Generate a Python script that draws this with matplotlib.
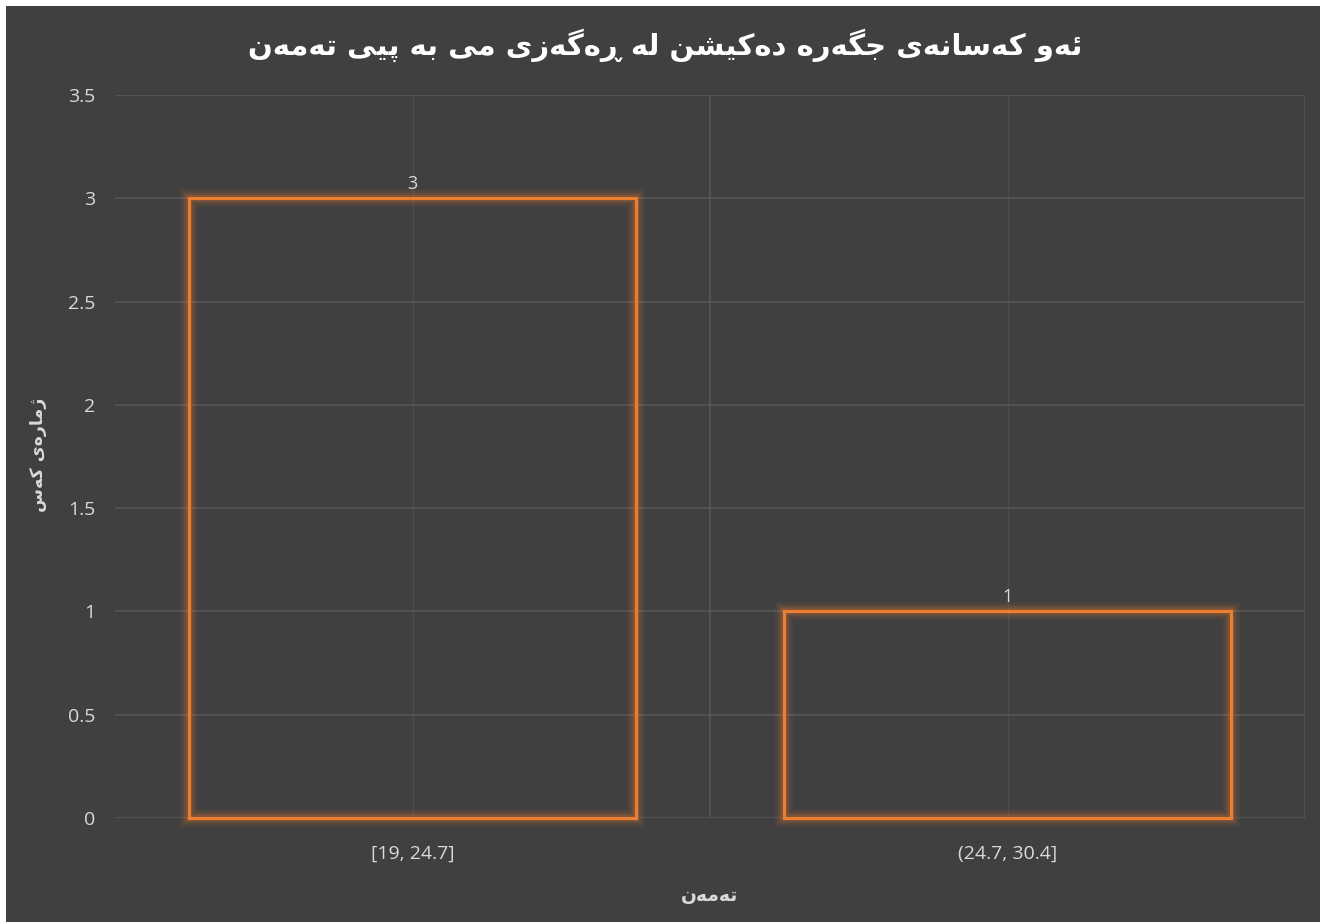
import matplotlib.pyplot as plt
from matplotlib.patches import Rectangle

# داتا
categories = ['[19, 24.7]', '(24.7, 30.4]']
counts = [3, 1]
title = 'ئەو کەسانەی جگەرە دەکێشن لە ڕەگەزی مێ بە پێی تەمەن'
xlabel = 'تەمەن'
ylabel = 'ژمارەی کەس'
yticks = [0, 0.5, 1, 1.5, 2, 2.5, 3, 3.5]

# شێوەکانی پیت: (جیا, کۆتایی, سەرەتا, ناوەڕاست) - None بۆ پیتی تەنها لای ڕاست
FORMS = {
    'ئ': ('\uFE89', '\uFE8A', '\uFE8B', '\uFE8C'),
    'ا': ('\uFE8D', '\uFE8E', None, None),
    'ب': ('\uFE8F', '\uFE90', '\uFE91', '\uFE92'),
    'ت': ('\uFE95', '\uFE96', '\uFE97', '\uFE98'),
    'ج': ('\uFE9D', '\uFE9E', '\uFE9F', '\uFEA0'),
    'د': ('\uFEA9', '\uFEAA', None, None),
    'ر': ('\uFEAD', '\uFEAE', None, None),
    'ڕ': ('\u0695', '\u0695', None, None),
    'ز': ('\uFEAF', '\uFEB0', None, None),
    'ژ': ('\uFB8A', '\uFB8B', None, None),
    'س': ('\uFEB1', '\uFEB2', '\uFEB3', '\uFEB4'),
    'ش': ('\uFEB5', '\uFEB6', '\uFEB7', '\uFEB8'),
    'ل': ('\uFEDD', '\uFEDE', '\uFEDF', '\uFEE0'),
    'م': ('\uFEE1', '\uFEE2', '\uFEE3', '\uFEE4'),
    'ن': ('\uFEE5', '\uFEE6', '\uFEE7', '\uFEE8'),
    'ە': ('\uFEE9', '\uFEEA', None, None),
    'و': ('\uFEED', '\uFEEE', None, None),
    'ی': ('\uFBFC', '\uFBFD', '\uFBFE', '\uFBFF'),
    'ێ': ('\u06CE', '\uFBFD', '\uFBFE', '\uFBFF'),
    'ک': ('\uFB8E', '\uFB8F', '\uFB90', '\uFB91'),
    'گ': ('\uFB92', '\uFB93', '\uFB94', '\uFB95'),
    'پ': ('\uFB56', '\uFB57', '\uFB58', '\uFB59'),
}


def shape(text):
    # matplotlib پیتە عەرەبییەکان ناپێکەوە دەلکێنێت، بۆیە دەستی دەیکەین
    out = []
    for i, ch in enumerate(text):
        f = FORMS.get(ch)
        if f is None:
            out.append(ch)
            continue
        prev = text[i - 1] if i > 0 else ''
        nxt = text[i + 1] if i + 1 < len(text) else ''
        joins_prev = prev in FORMS and FORMS[prev][2] is not None
        joins_next = nxt in FORMS and f[2] is not None
        if joins_prev and joins_next:
            g = f[3]
        elif joins_prev:
            g = f[1]
        elif joins_next:
            g = f[2]
        else:
            g = f[0]
        out.append(g)
    return ''.join(out)[::-1]


bg = '#404040'
orange = '#ED7D31'
grey = '#D9D9D9'
grid = '#585858'

fig = plt.figure(figsize=(13.2, 9.22), dpi=100)
fig.patch.set_facecolor('white')
fig.patches.append(Rectangle((6 / 1320, 0), 1, 1 - 6 / 922, transform=fig.transFigure,
                             facecolor=bg, edgecolor='none', zorder=-10))
ax = fig.add_axes([115 / 1320, 1 - 818 / 922, 1190 / 1320, 723 / 922])
ax.set_facecolor(bg)

x = list(range(len(categories)))
# درەوشانەوە
for lw, a in [(13, 0.06), (10, 0.08), (7, 0.12), (4.5, 0.18)]:
    ax.bar(x, counts, width=0.75, fill=False, edgecolor=orange, linewidth=lw, alpha=a,
           zorder=3, clip_on=False)
bars = ax.bar(x, counts, width=0.75, fill=False, edgecolor=orange, linewidth=2.2, zorder=4,
              clip_on=False)

for xi, c in zip(x, counts):
    ax.text(xi, c + 0.025, str(c), ha='center', va='bottom', color=grey, fontsize=13,
            family='Open Sans')

ax.set_xlim(-0.5, 1.5)
ax.set_ylim(0, 3.5)
ax.set_yticks(yticks)
ax.set_yticklabels([f'{t:g}' for t in yticks])
ax.set_xticks(x)
ax.set_xticklabels(categories)
ax.set_xticks([0.5, 1.5], minor=True)
for lab in ax.get_xticklabels() + ax.get_yticklabels():
    lab.set_family('Open Sans')
    lab.set_color(grey)
    lab.set_fontsize(14)
ax.tick_params(axis='both', which='both', length=0)
ax.tick_params(axis='x', pad=19)
ax.tick_params(axis='y', pad=14)

ax.grid(axis='y', color=grid, linewidth=1.1, zorder=1)
ax.grid(axis='x', which='major', color='#4c4c4c', linewidth=1, zorder=1)
ax.grid(axis='x', which='minor', color=grid, linewidth=1.1, zorder=1)
for s in ax.spines.values():
    s.set_visible(False)

fig.text(665 / 1320, 1 - 45 / 922, shape(title), ha='center', va='center', color='white',
         fontsize=21, fontweight='bold', family=['DejaVu Sans'])
fig.text(710 / 1320, 1 - 895 / 922, shape(xlabel), ha='center', va='center', color=grey,
         fontsize=13.5, fontweight='bold', family=['DejaVu Sans'])
fig.text(38 / 1320, 1 - 455 / 922, shape(ylabel), ha='center', va='center', color=grey,
         fontsize=12.5, fontweight='bold', family=['DejaVu Sans'], rotation=90)

fig.savefig('out.png', dpi=100, facecolor=fig.get_facecolor())
